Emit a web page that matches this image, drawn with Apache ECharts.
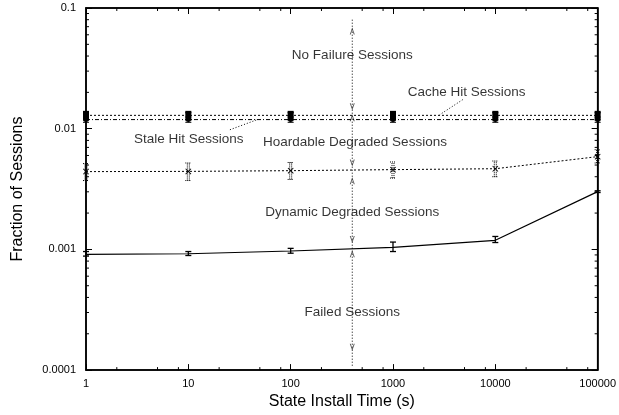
<!DOCTYPE html>
<html>
<head>
<meta charset="utf-8">
<script src="https://cdn.jsdelivr.net/npm/echarts@6/dist/echarts.min.js"></script>
<style>
html,body{margin:0;padding:0;background:#fff;}
#chart{width:619px;height:415px;}
</style>
</head>
<body>
<div id="chart"></div>
<script>
// ---- data ----
var installTimes = [1, 10, 100, 1000, 10000, 100000];
var xTickLabels = ['1', '10', '100', '1000', '10000', '100000'];
var yTickLabels = ['0.0001', '0.001', '0.01', '0.1'];

var cacheHit     = [0.0129, 0.0129, 0.0129, 0.0129, 0.0129, 0.0129];
var cacheHitLow  = [0.0118, 0.0118, 0.0118, 0.0118, 0.0118, 0.0118];
var cacheHitHigh = [0.0136, 0.0136, 0.0136, 0.0136, 0.0136, 0.0136];

var staleHit     = [0.0119, 0.0119, 0.0119, 0.0119, 0.0119, 0.0119];
var staleHitLow  = [0.0113, 0.0113, 0.0113, 0.0113, 0.0113, 0.0113];
var staleHitHigh = [0.0125, 0.0125, 0.0125, 0.0125, 0.0125, 0.0125];

var hoardable     = [0.00441, 0.00443, 0.00449, 0.00458, 0.00466, 0.00587];
var hoardableLow  = [0.00372, 0.00372, 0.00380, 0.00390, 0.00400, 0.00520];
var hoardableHigh = [0.00514, 0.00520, 0.00525, 0.00530, 0.00540, 0.00670];

var dynamic     = [0.00091, 0.00092, 0.00097, 0.00104, 0.00119, 0.00301];
var dynamicLow  = [0.00088, 0.00089, 0.00093, 0.00096, 0.00114, 0.00296];
var dynamicHigh = [0.00096, 0.00096, 0.00102, 0.00115, 0.00128, 0.00306];

// vertical region marker at one install time
var regionTime = 400;
var regionExtent = [0.08, 0.000108];
var regionArrowsUp   = [0.0645, 0.0123, 0.0037, 0.00092];
var regionArrowsDown = [0.0152, 0.0052, 0.00121, 0.000155];

var xMinorMultipliers = [2, 5, 8];
var yMinorMultipliers = [2, 3, 4, 5, 6, 7, 8, 9];

// ---- annotations (text + data-space anchor) ----
var annotations = [
  {text: 'No Failure Sessions',         at: [400, 0.0409]},
  {text: 'Cache Hit Sessions',          at: [5250, 0.0199]},
  {text: 'Stale Hit Sessions',          at: [10.1, 0.0081]},
  {text: 'Hoardable Degraded Sessions', at: [425, 0.00766]},
  {text: 'Dynamic Degraded Sessions',   at: [400, 0.00202]},
  {text: 'Failed Sessions',             at: [400, 0.000302]}
];
var pointers = [
  [[4800, 0.0174], [2860, 0.01305]],
  [[25.5, 0.0098], [46.8, 0.01186]]
];

// ---- build ----
var FONT = 'Liberation Sans, Arial, Helvetica, sans-serif';
var X_MIN = 1, X_MAX = 100000, Y_MIN = 0.0001, Y_MAX = 0.1;

function zip(xs, ys) { return xs.map(function (x, i) { return [x, ys[i]]; }); }
function zip3(xs, a, b) { return xs.map(function (x, i) { return [x, a[i], b[i]]; }); }

var xMinor = [];
for (var d = 1; d < X_MAX; d *= 10) xMinorMultipliers.forEach(function (m) { xMinor.push([d * m, Y_MIN]); });
var yMinor = [];
for (var e = Y_MIN; e < Y_MAX * 0.99; e *= 10) yMinorMultipliers.forEach(function (m) { yMinor.push([X_MIN, e * m]); });

function errorBarSeries(data, capW, lw) {
  return {
    type: 'custom', z: 5, silent: true,
    encode: {x: 0, y: [1, 2]},
    data: data,
    renderItem: function (params, api) {
      var x = api.value(0);
      var lo = api.coord([x, api.value(1)]);
      var hi = api.coord([x, api.value(2)]);
      var st = {stroke: '#000', lineWidth: lw};
      return {type: 'group', children: [
        {type: 'line', shape: {x1: lo[0], y1: lo[1], x2: hi[0], y2: hi[1]}, style: st},
        {type: 'line', shape: {x1: lo[0] - capW, y1: lo[1], x2: lo[0] + capW, y2: lo[1]}, style: st},
        {type: 'line', shape: {x1: hi[0] - capW, y1: hi[1], x2: hi[0] + capW, y2: hi[1]}, style: st}
      ]};
    }
  };
}

var xMajorFmt = function (v) { return String(Math.round(v)); };
var yMajorFmt = function (v) { return String(Number(v.toPrecision(1))); };

var axisBase = {
  type: 'log', logBase: 10, interval: 1,
  axisLine: {show: true, lineStyle: {color: '#000', width: 1.5}},
  axisTick: {show: true, inside: true, length: 6, lineStyle: {color: '#000', width: 1}},
  splitLine: {show: false},
  minorTick: {show: false}
};

var crossPath = 'path://M0,1L1,0L5,4L9,0L10,1L6,5L10,9L9,10L5,6L1,10L0,9L4,5Z';
var arrowUpPath = 'path://M5,0L10,10L8,10L5,3.5L2,10L0,10Z';
var arrowDownPath = 'path://M5,10L10,0L8,0L5,6.5L2,0L0,0Z';

var option = {
  animation: false,
  backgroundColor: '#fff',
  textStyle: {fontFamily: FONT, color: '#000'},
  grid: {left: 86, right: 21, top: 8, bottom: 43, show: true, borderColor: '#000', borderWidth: 1.5},
  xAxis: [
    Object.assign({}, axisBase, {
      min: X_MIN, max: X_MAX, position: 'bottom',
      axisLabel: {color: '#000', fontSize: 11, fontFamily: FONT, margin: 8, formatter: xMajorFmt},
      name: 'State Install Time (s)', nameLocation: 'middle', nameGap: 21,
      nameTextStyle: {color: '#000', fontSize: 16, fontFamily: FONT}
    }),
    Object.assign({}, axisBase, {
      min: X_MIN, max: X_MAX, position: 'top', axisLabel: {show: false}
    })
  ],
  yAxis: [
    Object.assign({}, axisBase, {
      min: Y_MIN, max: Y_MAX, position: 'left',
      axisLabel: {color: '#000', fontSize: 11, fontFamily: FONT, margin: 10, formatter: yMajorFmt},
      name: 'Fraction of Sessions', nameLocation: 'middle', nameGap: 60, nameRotate: 90,
      nameTextStyle: {color: '#000', fontSize: 16, fontFamily: FONT}
    }),
    Object.assign({}, axisBase, {
      min: Y_MIN, max: Y_MAX, position: 'right', axisLabel: {show: false}
    })
  ],
  series: [
    // minor ticks on x (bottom and top)
    {
      type: 'custom', silent: true, z: 1, data: xMinor,
      renderItem: function (params, api) {
        var b = api.coord([api.value(0), Y_MIN]);
        var t = api.coord([api.value(0), Y_MAX]);
        var st = {stroke: '#000', lineWidth: 1};
        return {type: 'group', children: [
          {type: 'line', shape: {x1: b[0], y1: b[1], x2: b[0], y2: b[1] - 3}, style: st},
          {type: 'line', shape: {x1: t[0], y1: t[1], x2: t[0], y2: t[1] + 3}, style: st}
        ]};
      }
    },
    // minor ticks on y (left and right)
    {
      type: 'custom', silent: true, z: 1, data: yMinor,
      renderItem: function (params, api) {
        var l = api.coord([X_MIN, api.value(1)]);
        var r = api.coord([X_MAX, api.value(1)]);
        var st = {stroke: '#000', lineWidth: 1};
        return {type: 'group', children: [
          {type: 'line', shape: {x1: l[0], y1: l[1], x2: l[0] + 3, y2: l[1]}, style: st},
          {type: 'line', shape: {x1: r[0], y1: r[1], x2: r[0] - 3, y2: r[1]}, style: st}
        ]};
      }
    },
    // vertical region line
    {
      type: 'line', data: [[regionTime, regionExtent[0]], [regionTime, regionExtent[1]]],
      symbol: 'none', silent: true, z: 3,
      lineStyle: {color: '#000', width: 1, type: [1, 2]}
    },
    {
      type: 'scatter', data: regionArrowsUp.map(function (y) { return [regionTime, y]; }),
      symbol: arrowUpPath, symbolSize: [5, 7], itemStyle: {color: '#333'}, silent: true, z: 4
    },
    {
      type: 'scatter', data: regionArrowsDown.map(function (y) { return [regionTime, y]; }),
      symbol: arrowDownPath, symbolSize: [5, 7], itemStyle: {color: '#333'}, silent: true, z: 4
    },
    // Cache Hit Sessions
    {
      name: 'Cache Hit Sessions', type: 'line', data: zip(installTimes, cacheHit),
      symbol: 'rect', symbolSize: [6, 9], itemStyle: {color: '#000'},
      lineStyle: {color: '#000', width: 1, type: [2, 2]}, z: 6
    },
    errorBarSeries(zip3(installTimes, cacheHitLow, cacheHitHigh), 3, 1.5),
    // Stale Hit Sessions
    {
      name: 'Stale Hit Sessions', type: 'line', data: zip(installTimes, staleHit),
      symbol: 'circle', symbolSize: 5, itemStyle: {color: '#000'},
      lineStyle: {color: '#000', width: 1, type: [4, 2, 1, 2]}, z: 6
    },
    errorBarSeries(zip3(installTimes, staleHitLow, staleHitHigh), 3, 1),
    // Hoardable Degraded Sessions
    {
      name: 'Hoardable Degraded Sessions', type: 'line', data: zip(installTimes, hoardable),
      symbol: crossPath, symbolSize: 6, itemStyle: {color: '#000'},
      lineStyle: {color: '#000', width: 1, type: [2, 2]}, z: 6
    },
    {
      type: 'custom', z: 5, silent: true, encode: {x: 0, y: [1, 2]},
      data: zip3(installTimes, hoardableLow, hoardableHigh),
      renderItem: function (params, api) {
        var x = api.value(0);
        var lo = api.coord([x, api.value(1)]);
        var hi = api.coord([x, api.value(2)]);
        var st = {stroke: '#000', lineWidth: 1, lineDash: [1, 1]};
        var cw = 3;
        return {type: 'group', children: [
          {type: 'line', shape: {x1: lo[0] - 1, y1: lo[1], x2: hi[0] - 1, y2: hi[1]}, style: st},
          {type: 'line', shape: {x1: lo[0] + 1, y1: lo[1], x2: hi[0] + 1, y2: hi[1]}, style: st},
          {type: 'line', shape: {x1: lo[0] - cw, y1: lo[1], x2: lo[0] + cw, y2: lo[1]}, style: st},
          {type: 'line', shape: {x1: hi[0] - cw, y1: hi[1], x2: hi[0] + cw, y2: hi[1]}, style: st}
        ]};
      }
    },
    // Dynamic Degraded Sessions
    {
      name: 'Dynamic Degraded Sessions', type: 'line', data: zip(installTimes, dynamic),
      symbol: 'none', lineStyle: {color: '#000', width: 1.2, type: 'solid'}, z: 6
    },
    errorBarSeries(zip3(installTimes, dynamicLow, dynamicHigh), 3, 1.3),
    // pointers from labels
    {
      type: 'line', data: pointers[0], symbol: 'none', silent: true, z: 3,
      lineStyle: {color: '#000', width: 1, type: [1, 2]}
    },
    {
      type: 'line', data: pointers[1], symbol: 'none', silent: true, z: 3,
      lineStyle: {color: '#000', width: 1, type: [1, 2]}
    },
    // annotation texts
    {
      type: 'scatter', symbolSize: 0, silent: true, z: 10,
      data: annotations.map(function (a) { return {value: a.at, name: a.text}; }),
      label: {
        show: true, position: 'inside', formatter: '{b}',
        color: '#000', fontSize: 13.5, fontFamily: FONT
      }
    }
  ]
};

var chart = echarts.init(document.getElementById('chart'), null, {renderer: 'canvas'});
chart.setOption(option);
</script>
</body>
</html>
